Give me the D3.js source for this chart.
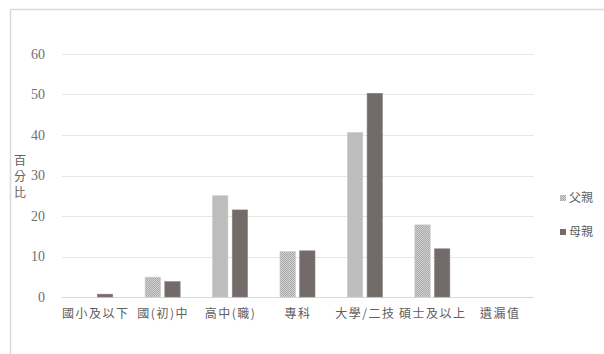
<!DOCTYPE html>
<html lang="zh-Hant">
<head>
<meta charset="utf-8">
<title>父母教育程度</title>
<script src="https://cdn.jsdelivr.net/npm/d3@7"></script>
<style>
  body { margin: 0; background: #fff; }
  text { fill: #606060; }
  .num { font-family: "Liberation Serif", "DejaVu Serif", serif; font-size: 14px; fill: #707070; }
  .cjk { font-family: "Noto Sans CJK TC", "Noto Sans CJK SC", sans-serif; font-size: 12px; }
</style>
</head>
<body>
<script>
// data
const categories = ["國小及以下", "國(初)中", "高中(職)", "專科", "大學/二技", "碩士及以上", "遺漏值"];
const series = ["父親", "母親"];
const father = [0, 4.9, 25.0, 11.2, 40.6, 17.8, 0];
const mother = [0.7, 3.8, 21.5, 11.4, 50.3, 11.9, 0];
const yTicks = [0, 10, 20, 30, 40, 50, 60];

const W = 604, H = 354;
const plot = { left: 62, right: 534, top: 54, bottom: 297 };

const svg = d3.select("body").append("svg")
    .attr("width", W).attr("height", H);

// dotted fill for the father bars
const defs = svg.append("defs");
const pat = defs.append("pattern")
    .attr("id", "dots").attr("width", 2).attr("height", 2)
    .attr("patternUnits", "userSpaceOnUse");
pat.append("rect").attr("width", 2).attr("height", 2).attr("fill", "#d6d6d6");
pat.append("rect").attr("width", 1).attr("height", 1).attr("fill", "#a4a4a4");
pat.append("rect").attr("x", 1).attr("y", 1).attr("width", 1).attr("height", 1).attr("fill", "#a4a4a4");

// frame (cropped at right/bottom)
svg.append("path")
    .attr("d", `M10.5,${H} V9.5 H${W}`)
    .attr("fill", "none").attr("stroke", "#d9d9d9").attr("stroke-width", 1.5);

const x0 = d3.scaleBand().domain(categories).range([plot.left, plot.right]);
const y = d3.scaleLinear().domain([0, 60]).range([plot.bottom, plot.top]);

// grid
svg.append("g").selectAll("line")
    .data(yTicks)
    .join("line")
      .attr("x1", plot.left).attr("x2", plot.right)
      .attr("y1", d => Math.round(y(d)) + 0.5).attr("y2", d => Math.round(y(d)) + 0.5)
      .attr("stroke", d => d === 0 ? "#d9d9d9" : "#e6e6e6");

// y labels
svg.append("g").selectAll("text")
    .data(yTicks)
    .join("text")
      .attr("class", "num")
      .attr("x", 45).attr("y", d => y(d))
      .attr("dy", "0.35em").attr("text-anchor", "end")
      .text(d => d);

// y title, stacked vertically
svg.append("g").selectAll("text")
    .data(["百", "分", "比"])
    .join("text")
      .attr("class", "cjk")
      .attr("x", 20).attr("y", (d, i) => 161 + i * 16)
      .attr("dy", "0.35em").attr("text-anchor", "middle")
      .text(d => d);

// bars
const rows = categories.map((c, i) => ({ cat: c, vals: [father[i], mother[i]] }));
const fills = ["url(#dots)", "#736b69"];

const groups = svg.append("g").selectAll("g")
    .data(rows)
    .join("g")
      .attr("transform", d => `translate(${x0(d.cat) + x0.bandwidth() / 2 - 18},0)`);

const x1 = d3.scaleBand().domain(series).range([0, 35]).paddingInner(0.22);

groups.selectAll("rect")
    .data(d => d.vals.map((v, j) => ({ s: series[j], v, j })))
    .join("rect")
      .attr("x", d => x1(d.s))
      .attr("width", x1.bandwidth())
      .attr("y", d => y(d.v))
      .attr("height", d => y(0) - y(d.v))
      .attr("fill", d => fills[d.j])
      .attr("stroke", d => d.j === 0 ? "#c8c8c8" : "#8a8381")
      .attr("stroke-width", 0.6);

// category labels
svg.append("g").selectAll("text")
    .data(categories)
    .join("text")
      .attr("class", "cjk")
      .attr("x", d => x0(d) + x0.bandwidth() / 2)
      .attr("y", 318)
      .attr("text-anchor", "middle")
      .attr("letter-spacing", 1.5)
      .text(d => d);

// legend
const legend = svg.append("g").selectAll("g")
    .data(series)
    .join("g")
      .attr("transform", (d, i) => `translate(560,${198 + i * 34})`);
legend.append("rect")
    .attr("x", 0).attr("y", -3).attr("width", 6).attr("height", 6)
    .attr("fill", (d, i) => fills[i]);
legend.append("text")
    .attr("class", "cjk")
    .attr("x", 9).attr("dy", "0.35em")
    .text(d => d);
</script>
</body>
</html>
